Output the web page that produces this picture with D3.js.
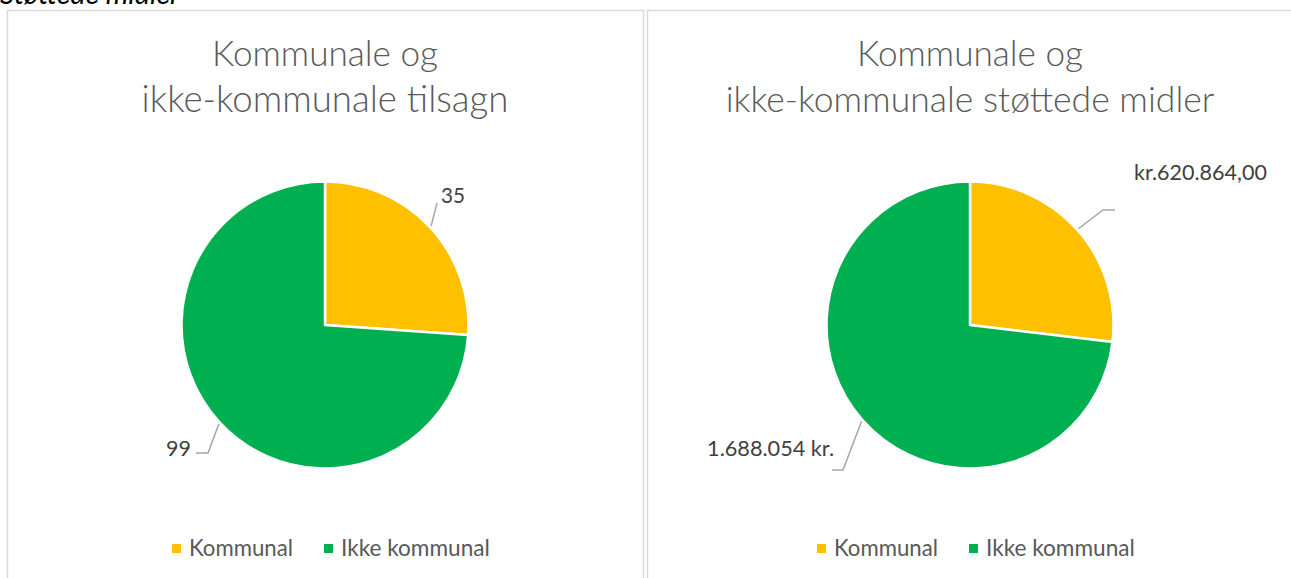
<!DOCTYPE html>
<html>
<head>
<meta charset="utf-8">
<script src="https://cdn.jsdelivr.net/npm/d3@7"></script>
<style>
  html, body { margin: 0; padding: 0; background: #fff; }
  svg { display: block; }
  text { font-family: Lato, "Open Sans", sans-serif; }
</style>
</head>
<body>
<svg id="chart" width="1291" height="578"></svg>
<script>
// ---- data ----
const categories = ["Kommunal", "Ikke kommunal"];
const tilsagnValues = [35, 99];
const midlerValues = [620864.00, 1688054];
const tilsagnLabels = ["35", "99"];
const midlerLabels = ["kr.620.864,00", "1.688.054 kr."];
const chartTitles = [
  ["Kommunale og", "ikke-kommunale tilsagn"],
  ["Kommunale og", "ikke-kommunale støttede midler"]
];
const headerText = "Støttede midler";

// ---- style ----
const colors = d3.scaleOrdinal().domain(categories).range(["#FFC000", "#00B050"]);
const svg = d3.select("#chart");

function fit(sel, width) {
  const n = sel.node();
  const base = 20;
  sel.style("font-size", base + "px");
  const w = n.getComputedTextLength();
  sel.style("font-size", (base * width / w) + "px");
  return sel;
}

// header cut off at top (as in the reference)
fit(svg.append("text").attr("x", 0).attr("y", 4)
  .attr("font-style", "italic").attr("fill", "#000").text(headerText), 180);

// panels
const panels = [
  { x: 7.5, w: 636, cx: 325, values: tilsagnValues, labels: tilsagnLabels, title: chartTitles[0],
    titleW: [226, 367],
    lab: [ { mid: [437, 203], end: null, tx: 441, ty: 203, anchor: "start", w: 24 },
           { mid: [208, 453], end: [196, 453], tx: 191, ty: 456, anchor: "end", w: 25 } ],
    legendX: 172 },
  { x: 647.5, w: 700, cx: 970, values: midlerValues, labels: midlerLabels, title: chartTitles[1],
    titleW: [226, 489],
    lab: [ { mid: [1103, 210], end: [1115, 210], tx: 1134, ty: 180, anchor: "start", w: 133 },
           { mid: [843, 470], end: [832, 470], tx: 834, ty: 456, anchor: "end", w: 127 } ],
    legendX: 817 }
];

const cy = 325, R = 143.5;
const pie = d3.pie().sort(null).value(d => d);
const arc = d3.arc().innerRadius(0).outerRadius(R);

panels.forEach(p => {
  svg.append("rect").attr("x", p.x).attr("y", 10.5).attr("width", p.w).attr("height", 700)
    .attr("fill", "none").attr("stroke", "#d9d9d9").attr("stroke-width", 1.5);

  // title
  p.title.forEach((t, i) => {
    fit(svg.append("text").attr("x", p.cx).attr("y", 66 + i * 46)
      .attr("text-anchor", "middle").attr("font-weight", 300)
      .attr("fill", "#595959").text(t), p.titleW[i]);
  });

  const g = svg.append("g").attr("transform", `translate(${p.cx},${cy})`);
  const arcs = pie(p.values);
  g.selectAll("path").data(arcs).join("path")
    .attr("d", arc)
    .attr("fill", (d, i) => colors(categories[i]))
    .attr("stroke", "#fff").attr("stroke-width", 2.5).attr("stroke-linejoin", "round");

  // labels with leader lines
  arcs.forEach((a, i) => {
    const ang = (a.startAngle + a.endAngle) / 2;
    const sx = p.cx + (R + 1.5) * Math.sin(ang), sy = cy - (R + 1.5) * Math.cos(ang);
    const L = p.lab[i];
    const pts = [[sx, sy], L.mid];
    if (L.end) pts.push(L.end);
    svg.append("path").attr("d", d3.line()(pts)).attr("fill", "none")
      .attr("stroke", "#a6a6a6").attr("stroke-width", 1.5);
    fit(svg.append("text").attr("x", L.tx).attr("y", L.ty).attr("text-anchor", L.anchor)
      .attr("fill", "#404040").text(p.labels[i]), L.w);
  });

  // legend
  const lg = svg.append("g");
  let x = p.legendX;
  const textW = [104, 149];
  categories.forEach((c, i) => {
    lg.append("rect").attr("x", x).attr("y", 544).attr("width", 9).attr("height", 9).attr("fill", colors(c));
    fit(lg.append("text").attr("x", x + 17).attr("y", 556).attr("fill", "#595959").text(c), textW[i]);
    x += 152;
  });
});
</script>
</body>
</html>
